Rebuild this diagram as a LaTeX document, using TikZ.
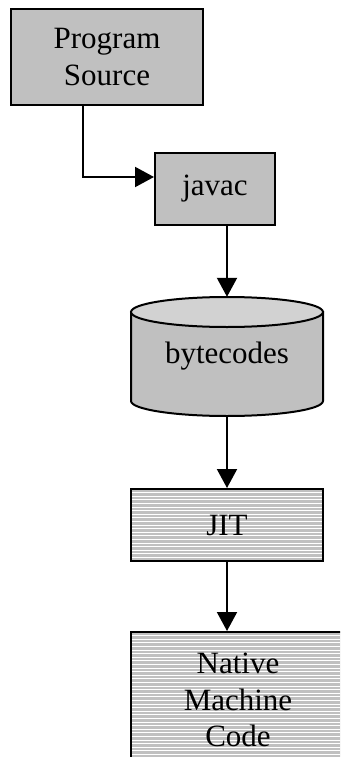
\documentclass[tikz,border=0pt]{standalone}
\usepackage{fontspec}
\setmainfont{Liberation Serif}
\usetikzlibrary{arrows.meta}

\definecolor{boxgray}{HTML}{C0C0C0}
\definecolor{lidgray}{HTML}{D2D2D2}

\tikzset{
  stage/.style={draw, line width=2pt, fill=boxgray, inner sep=0pt, align=center},
  striped/.style={stage, path picture={
      \foreach \k in {1,...,50}
        \draw[white, line width=0.9pt]
          ([yshift=-\k*3.6pt]path picture bounding box.north west) --
          ([yshift=-\k*3.6pt]path picture bounding box.north east);}},
  flow/.style={line width=2pt, -{Triangle[length=19pt,width=20pt]}}
}

\begin{document}
\begin{tikzpicture}[x=1pt, y=1pt, font=\fontsize{31}{36.5}\selectfont]
    \clip (0,0) rectangle (340,-757);

    % Source and compiler
    \node[stage, minimum width=192pt, minimum height=96pt] (source) at (107,-57) {Program\\Source};
    \node[stage, minimum width=120pt, minimum height=72pt] (javac) at (215,-189) {javac};

    % Bytecode store (cylinder)
    \filldraw[fill=boxgray, line width=2pt] (131,-312) -- (131,-401)
        arc[start angle=180, end angle=360, x radius=96pt, y radius=15pt] -- (323,-312) -- cycle;
    \filldraw[fill=lidgray, line width=2pt] (227,-312) ellipse (96pt and 15pt);
    \node[minimum width=192pt, minimum height=119pt, inner sep=0pt] (bytecodes) at (227,-356.5) {bytecodes};

    % JIT and native code
    \node[striped, minimum width=192pt, minimum height=72pt] (jit) at (227,-525) {JIT};
    \node[striped, minimum width=214pt, minimum height=136pt] (native) at (238,-700) {Native\\Machine\\Code};

    % Arrows
    \coordinate (bend) at (83,-177);
    \draw[flow] (source.south -| bend) -- (bend) -- (bend -| javac.west);
    \draw[flow] (javac.south -| bytecodes.north) -- (bytecodes.north);
    \draw[flow] (bytecodes.south) -- (jit.north);
    \draw[flow] (jit.south) -- (jit.south |- native.north);
\end{tikzpicture}
\end{document}
